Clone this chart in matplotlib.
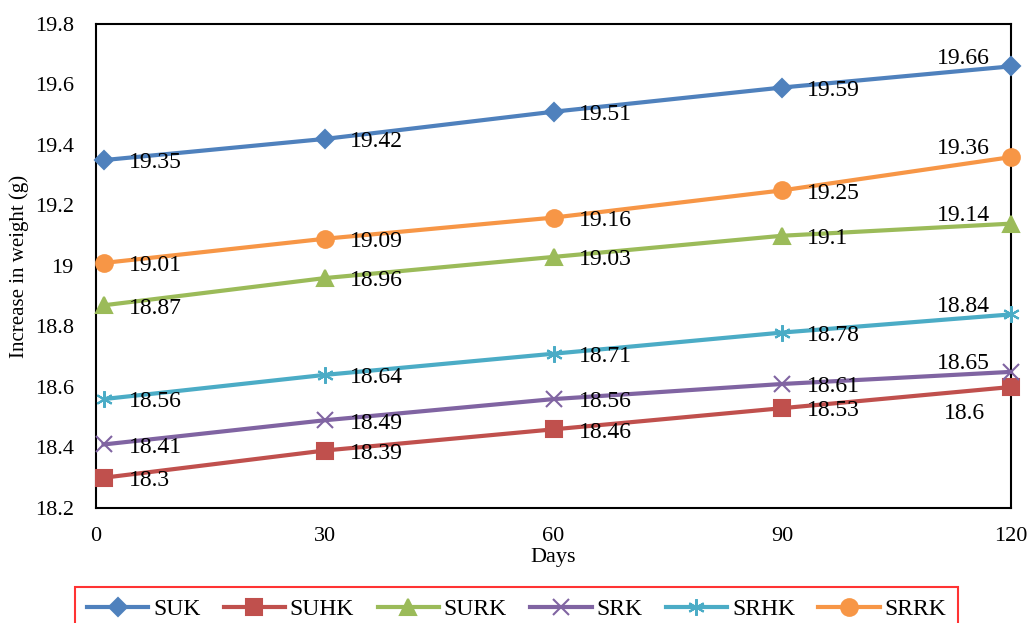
import matplotlib
matplotlib.use("Agg")
import matplotlib.pyplot as plt

plt.rcParams['font.family'] = ['Liberation Serif', 'DejaVu Serif']

days = [1, 30, 60, 90, 120]
names = ["SUK", "SUHK", "SURK", "SRK", "SRHK", "SRRK"]
SUK = [19.35, 19.42, 19.51, 19.59, 19.66]
SUHK = [18.3, 18.39, 18.46, 18.53, 18.6]
SURK = [18.87, 18.96, 19.03, 19.1, 19.14]
SRK = [18.41, 18.49, 18.56, 18.61, 18.65]
SRHK = [18.56, 18.64, 18.71, 18.78, 18.84]
SRRK = [19.01, 19.09, 19.16, 19.25, 19.36]
xticks = [0, 30, 60, 90, 120]
yticks = [18.2, 18.4, 18.6, 18.8, 19, 19.2, 19.4, 19.6, 19.8]
ytick_labels = ["18.2", "18.4", "18.6", "18.8", "19", "19.2", "19.4", "19.6", "19.8"]

series = [SUK, SUHK, SURK, SRK, SRHK, SRRK]
colors = ["#4F81BD", "#C0504D", "#9BBB59", "#8064A2", "#4BACC6", "#F79646"]
markers = ["D", "s", "^", "x", (6, 2, 0), "o"]
msizes = [9, 12, 11, 11, 12, 12]

fig = plt.figure(figsize=(10.30, 6.23), dpi=100)
ax = fig.add_axes([0.0932, 0.1846, 0.8884, 0.7769])

for name, vals, c, m, ms in zip(names, series, colors, markers, msizes):
    ax.plot(days, vals, color=c, lw=3, marker=m, ms=ms, mew=1.5,
            label=name, clip_on=False, zorder=3)
    for i, (d, v) in enumerate(zip(days, vals)):
        lab = f"{v:g}"
        if i < len(days) - 1:
            ax.annotate(lab, (d, v), xytext=(18, -2), textcoords="offset points",
                        ha="left", va="center", fontsize=17)
        elif name == "SUHK":
            ax.annotate(lab, (d, v), xytext=(-19, -19), textcoords="offset points",
                        ha="right", va="center", fontsize=17)
        else:
            ax.annotate(lab, (d, v), xytext=(-15, 6), textcoords="offset points",
                        ha="right", va="center", fontsize=17)

ax.set_xlim(0, 120)
ax.set_ylim(18.2, 19.8)
ax.set_xticks(xticks)
ax.set_yticks(yticks)
ax.set_yticklabels(ytick_labels)
ax.tick_params(length=0, labelsize=16)
ax.tick_params(axis="x", pad=14)
ax.tick_params(axis="y", pad=16)
for s in ax.spines.values():
    s.set_linewidth(1.5)
ax.set_xlabel("Days", fontsize=16, labelpad=1)
ax.set_ylabel("Increase in weight (g)", fontsize=15, labelpad=4)

leg = fig.legend(loc="upper left", bbox_to_anchor=(75 / 1030, 1 - 587 / 623 - 0.05, 883 / 1030, 0.05),
                 mode="expand", ncol=6, fontsize=17, frameon=True, fancybox=False,
                 handlelength=2.6, handletextpad=0.2, borderaxespad=0, borderpad=0.5)
leg.get_frame().set_edgecolor("#FF0000")
leg.get_frame().set_linewidth(1.5)

fig.savefig("out.png", dpi=100)
